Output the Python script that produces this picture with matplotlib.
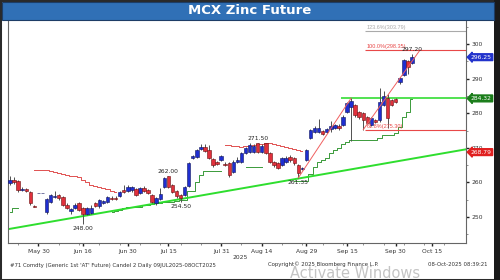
import numpy as np
import matplotlib
matplotlib.use("Agg")
import matplotlib.pyplot as plt
from matplotlib.patches import Rectangle

# ==== DATA (one candle per trading day, index 0..99) ====
opens = [259.8, 260.8, 260.3, 257.8, 258.0, 257.3, 253.3, 257.0, 257.0, 251.5,
         254.4, 255.8, 256.5, 255.9, 253.5, 251.8, 252.5, 254.0, 252.7, 251.0,
         251.2, 254.0, 253.3, 254.2, 254.5, 255.5, 255.6, 256.0, 257.9, 257.6,
         257.8, 258.1, 257.0, 258.4, 257.8, 256.4, 254.0, 255.2, 258.7, 261.9,
         259.3, 257.5, 256.3, 256.5, 259.0, 267.0, 267.4, 269.6, 270.2, 269.4,
         266.8, 265.8, 266.5, 265.3, 265.6, 263.1, 265.9, 265.9, 268.5, 268.8,
         268.8, 271.4, 268.8, 271.4, 268.5, 265.9, 265.6, 265.0, 266.0, 267.4,
         267.0, 265.0, 263.8, 266.5, 272.9, 274.5, 274.6, 274.9, 274.6, 275.4,
         275.8, 276.3, 276.6, 280.4, 281.8, 282.4, 280.3, 280.0, 279.0, 276.6,
         278.0, 278.0, 282.5, 284.4, 283.9, 284.2, 289.0, 291.1, 295.0, 294.6]
highs = [262.0, 261.5, 260.8, 258.6, 258.4, 257.6, 253.5, 257.0, 257.0, 255.6,
         256.6, 257.5, 256.8, 256.2, 254.0, 252.6, 254.0, 254.4, 253.0, 253.0,
         253.4, 254.5, 255.3, 255.0, 256.2, 256.0, 256.2, 257.6, 259.4, 259.3,
         259.0, 258.4, 258.8, 258.9, 258.2, 256.8, 255.9, 258.3, 261.7, 262.0,
         259.6, 257.8, 256.6, 258.9, 266.0, 268.0, 269.8, 271.0, 271.2, 270.8,
         267.2, 266.2, 268.0, 265.8, 265.9, 266.4, 267.4, 268.8, 270.4, 271.3,
         271.0, 271.5, 271.0, 271.5, 268.8, 266.3, 266.0, 267.4, 267.6, 267.9,
         267.4, 265.3, 264.6, 269.8, 275.5, 276.2, 278.3, 275.2, 275.9, 277.7,
         276.8, 276.8, 279.4, 283.3, 284.4, 282.8, 280.6, 280.3, 279.3, 279.0,
         278.4, 287.3, 286.5, 285.5, 284.2, 284.4, 290.6, 295.8, 295.3, 297.2]
lows = [259.4, 259.6, 257.3, 257.5, 257.3, 253.5, 252.8, 257.0, 257.0, 251.0,
        254.0, 255.5, 255.0, 253.2, 252.4, 251.0, 252.3, 251.8, 248.0, 250.6,
        250.9, 252.8, 252.5, 253.8, 254.2, 254.8, 254.9, 255.8, 256.9, 257.3,
        257.3, 256.0, 256.8, 257.2, 256.6, 254.0, 253.6, 255.0, 258.4, 258.5,
        256.9, 255.6, 254.5, 256.2, 258.8, 266.7, 267.0, 269.3, 268.8, 266.8,
        264.6, 265.0, 266.2, 264.7, 261.7, 262.8, 265.6, 265.5, 268.2, 268.5,
        268.5, 268.4, 268.5, 268.2, 265.5, 264.6, 263.8, 264.7, 265.7, 266.0,
        265.0, 261.35, 263.5, 266.2, 272.5, 274.2, 274.3, 273.6, 274.2, 274.5,
        275.5, 275.3, 276.3, 280.1, 272.0, 279.0, 278.5, 275.3, 276.8, 276.3,
        277.3, 277.6, 282.0, 275.8, 282.0, 283.0, 288.6, 290.8, 291.5, 294.2]
closes = [260.8, 260.0, 257.8, 258.1, 257.5, 254.1, 253.0, 257.0, 257.0, 255.3,
          256.3, 256.2, 255.4, 253.5, 252.7, 252.3, 253.5, 252.1, 250.8, 252.6,
          252.6, 253.3, 254.8, 254.6, 255.8, 255.2, 255.3, 257.3, 257.2, 258.7,
          258.6, 256.4, 258.4, 257.6, 257.0, 254.4, 255.5, 256.6, 261.3, 258.8,
          257.3, 256.2, 255.5, 258.6, 265.7, 267.6, 269.4, 270.2, 269.2, 267.1,
          265.0, 265.4, 267.6, 265.0, 262.2, 266.0, 266.5, 268.5, 270.0, 270.9,
          270.5, 268.8, 270.6, 268.5, 265.9, 265.0, 264.2, 267.0, 267.2, 266.5,
          265.5, 262.8, 264.3, 269.4, 275.2, 275.8, 275.8, 274.0, 275.5, 276.2,
          276.6, 275.7, 279.0, 283.0, 283.6, 279.5, 279.0, 278.0, 277.2, 278.7,
          277.6, 283.3, 285.0, 278.6, 282.4, 283.3, 290.3, 295.5, 293.4, 296.25]

# trailing stop lines (index, value)
red_trail_1_x = list(range(6, 27))
red_trail_1_y = [263.6, 263.6, 263.6, 263.5, 263.3, 263.0, 262.8, 262.6, 262.3, 262.0,
                 261.8, 261.5, 260.8, 260.0, 259.4, 258.9, 258.7, 258.4, 258.0, 257.6, 257.3]
red_trail_2_x = list(range(53, 73))
red_trail_2_y = [270.8, 270.8, 270.6, 270.5, 270.4, 270.5, 270.7, 270.9, 271.1, 271.2,
                 271.3, 271.3, 271.0, 270.8, 270.5, 270.3, 270.0, 269.7, 269.4, 269.2]
green_trail_1_x = [0, 1, 2]
green_trail_1_y = [251.5, 252.7, 252.7]
green_trail_2_x = list(range(25, 53))
green_trail_2_y = [251.5, 251.8, 252.0, 252.6, 253.0, 253.0, 253.0, 253.0, 253.4, 253.6,
                   253.8, 254.0, 254.2, 254.4, 254.5, 254.5, 254.6, 254.8, 254.9, 257.5,
                   257.5, 260.0, 262.3, 263.4, 263.4, 263.4, 263.4, 263.4]
green_trail_3_x = [58, 59, 60, 61, 62]
green_trail_3_y = [264.5, 264.5, 264.5, 264.5, 264.5]
green_trail_4_x = list(range(70, 100))
green_trail_4_y = [260.4, 260.4, 260.4, 260.4, 262.5, 264.5, 265.8, 266.5, 267.2, 268.5,
                   269.3, 270.0, 271.0, 271.7, 272.3, 272.3, 272.3, 272.3, 272.3, 272.3,
                   272.3, 272.9, 273.7, 273.7, 273.7, 274.3, 276.0, 279.0, 280.4, 284.2]

# support trendline end points
trend_x = [-0.5, 112.3]
trend_y = [246.5, 269.6]

# fibonacci points A-B-C and extension levels
fib_x = [71, 84, 87, 101]
fib_y = [261.35, 284.4, 275.3, 298.35]
fib_levels = [275.30, 298.35, 303.79]
fib_names = ["61.8%(275.30)", "100.0%(298.35)", "123.6%(303.79)"]
support_level = 284.32

# marked highs / lows (index, value, text)
marks = [(18, 248.00, "248.00", "low"), (39, 262.00, "262.00", "high"),
         (42, 254.50, "254.50", "low"), (61, 271.50, "271.50", "high"),
         (71, 261.35, "261.35", "low"), (99, 297.20, "297.20", "high")]

tick_pos = [7, 18, 29, 39, 52, 62, 73, 83, 95, 104]
tick_labels = ["May 30", "Jun 16", "Jun 30", "Jul 15", "Jul 31", "Aug 14",
               "Aug 29", "Sep 15", "Sep 30", "Oct 15"]

# ==== PLOT ====
fig = plt.figure(figsize=(5, 2.8), dpi=100)
fig.patch.set_facecolor("white")

# outer frame and title bar
fig.patches.append(Rectangle((0, 0), 1, 1, transform=fig.transFigure,
                             fill=False, edgecolor="#2a2a2a", lw=2.2))
fig.patches.append(Rectangle((494 / 500, 0), 6 / 500, 1, transform=fig.transFigure,
                             facecolor="#1a1a1a", edgecolor="none"))
fig.patches.append(Rectangle((2 / 500, 1 - 19.5 / 280), 492 / 500, 18 / 280,
                             transform=fig.transFigure, facecolor="#3070b6",
                             edgecolor="#1d3d66", lw=0.8))
fig.text(250 / 500, 1 - 11 / 280, "MCX Zinc Future", color="white",
         fontsize=9.5, fontweight="bold", ha="center", va="center")

ax = fig.add_axes([8 / 500, 1 - 243 / 280, 458 / 500, 223 / 280])
ax.set_xlim(-0.5, 112.3)
ax.set_ylim(242.5, 307.0)

idx = np.arange(len(closes))
o = np.array(opens); c = np.array(closes)
h = np.array(highs); l = np.array(lows)
up = c >= o
ax.vlines(idx, l, h, color="#505050", lw=0.7, zorder=3)
ax.bar(idx[up], c[up] - o[up], bottom=o[up], width=0.85,
       color="#1f2ed0", edgecolor="#10155e", lw=0.4, zorder=4)
ax.bar(idx[~up], c[~up] - o[~up], bottom=o[~up], width=0.85,
       color="#e0303c", edgecolor="#6a1010", lw=0.4, zorder=4)

# trailing lines
for xs, ys in [(red_trail_1_x, red_trail_1_y), (red_trail_2_x, red_trail_2_y)]:
    ax.plot(xs, ys, color="#e05050", lw=0.7, drawstyle="steps-mid", zorder=2)
for xs, ys in [(green_trail_1_x, green_trail_1_y), (green_trail_2_x, green_trail_2_y),
               (green_trail_3_x, green_trail_3_y), (green_trail_4_x, green_trail_4_y)]:
    ax.plot(xs, ys, color="#3a9a3a", lw=0.7, drawstyle="steps-mid", zorder=2)

ax.plot(trend_x, trend_y, color="#2ede2e", lw=1.4, zorder=2.5)

# fib lines
ax.plot(fib_x[:2], fib_y[:2], color="#f06060", lw=0.7, zorder=5)
ax.plot(fib_x[2:], fib_y[2:], color="#f06060", lw=0.7, zorder=5)
fib_colors = ["#e84848", "#e84848", "#aaaaaa"]
for lev, name, col in zip(fib_levels, fib_names, fib_colors):
    ax.hlines(lev, fib_x[2] + 0.5, 112.3, color=col, lw=0.8, zorder=2)
    ax.text(fib_x[2] + 0.8, lev + 0.3, name, color=col, fontsize=4.0,
            family="Liberation Sans", ha="left", va="bottom", zorder=6)
ax.hlines(support_level, 81.5, 112.3, color="#33dd33", lw=1.2, zorder=2)

for xi, val, txt, kind in marks:
    if kind == "low":
        ax.text(xi, val - 0.6, txt, fontsize=4.3, color="#222222",
                ha="center", va="top", zorder=6)
    else:
        ax.text(xi, val + 0.5, txt, fontsize=4.3, color="#222222",
                ha="center", va="bottom", zorder=6)

# right-side value boxes
boxes = [(closes[-1], "%.2f" % closes[-1], "#2233cc"),
         (support_level, "%.2f" % support_level, "#1a7d1a"),
         (268.79, "268.79", "#e02020")]
for val, txt, col in boxes:
    ax.annotate(txt, xy=(1.0, val), xycoords=("axes fraction", "data"),
                xytext=(3.5, 0), textcoords="offset points", fontsize=4.3,
                color="white", va="center", ha="left", annotation_clip=False,
                bbox=dict(boxstyle="larrow,pad=0.15", fc=col, ec=col), zorder=10)

# axes styling
ax.spines["top"].set_visible(False)
for s in ["left", "right", "bottom"]:
    ax.spines[s].set_color("#666666")
    ax.spines[s].set_linewidth(0.8)
ax.yaxis.tick_right()
ax.set_yticks([250, 260, 270, 280, 290, 300])
ax.set_yticks([245, 255, 265, 275, 285, 295, 305], minor=True)
ax.set_xticks(tick_pos)
ax.set_xticklabels(tick_labels)
ax.set_xticks(np.arange(2, 112, 5), minor=True)
ax.tick_params(axis="both", which="major", labelsize=4.3, labelcolor="#333333",
               color="#222222", length=2.5, width=1.0, pad=1.5)
ax.tick_params(axis="both", which="minor", color="#666666", length=1.5, width=0.5)

# footer
fig.text(240 / 500, 1 - 257.5 / 280, "2025", fontsize=4.3, color="#333333",
         ha="center", va="center")
fig.text(10 / 500, 1 - 265 / 280, "#71 Comdty (Generic 1st 'AT' Future) Candel 2 Daily 09JUL2025-08OCT2025",
         fontsize=3.9, color="#333333", ha="left", va="center")
fig.text(323 / 500, 1 - 264.5 / 280, "Copyright\u00a9 2025 Bloomberg Finance L.P.",
         fontsize=3.9, color="#333333", ha="center", va="center")
fig.text(488 / 500, 1 - 265 / 280, "08-Oct-2025 08:39:21",
         fontsize=3.9, color="#333333", ha="right", va="center")
fig.text(290 / 500, 1 - 278 / 280, "Activate Windows", fontsize=10.5,
         color="#c4c4c4", ha="left", va="baseline", zorder=0)

fig.savefig("out.png", dpi=100)
